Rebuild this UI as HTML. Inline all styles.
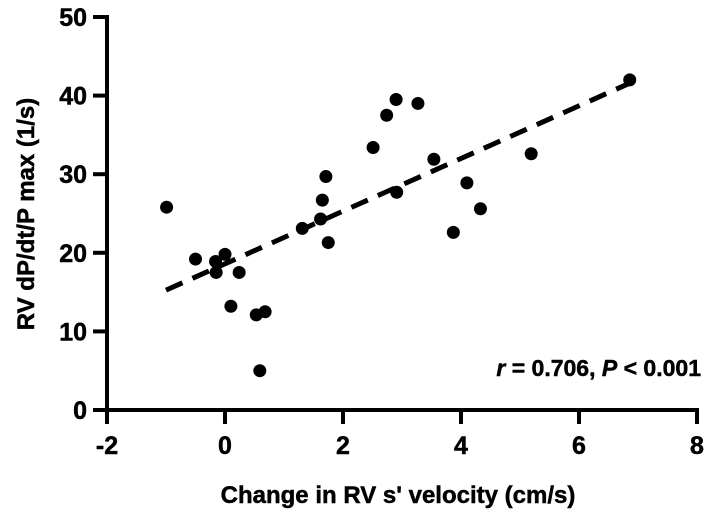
<!DOCTYPE html>
<html><head><meta charset="utf-8"><style>
body{margin:0;background:#fff}
svg text{font-family:"Liberation Sans",Arial,sans-serif;font-weight:bold;fill:#000}
</style></head><body>
<svg width="709" height="522">
<g id="axes"></g><g id="marks"></g>
<text x="701" y="376" text-anchor="end" font-size="23" stroke="#000" stroke-width="0.5"><tspan font-style="italic">r</tspan> = 0.706, <tspan font-style="italic">P</tspan> &lt; 0.001</text>
<text x="398" y="503" text-anchor="middle" font-size="24" stroke="#000" stroke-width="0.5">Change in RV s' velocity (cm/s)</text>
<text transform="translate(34,214) rotate(-90)" text-anchor="middle" font-size="24" stroke="#000" stroke-width="0.5">RV dP/dt/P max (1/s)</text>
</svg>
<script>
const xVals=[-0.99,-0.50,-0.15,-0.16,0.0,0.24,0.10,0.53,0.68,0.59,1.31,1.62,1.65,1.71,1.75,2.51,2.74,2.90,3.27,2.91,3.54,3.87,4.10,4.33,5.19,6.86];
const yVals=[25.8,19.2,17.5,18.9,19.8,17.5,13.2,12.1,12.5,5.0,23.1,24.3,26.7,29.7,21.3,33.4,37.5,39.5,39.0,27.7,31.9,22.6,28.9,25.6,32.6,42.0];
const xTicks=[-2,0,2,4,6,8];
const yTicks=[0,10,20,30,40,50];
const fitX=[-1,6.86];
const slope=3.35, intercept=18.6;
const X0=107,X1=697,Y0=410,Y1=17;
const sx=v=>X0+(v+2)/10*(X1-X0);
const sy=v=>Y0-v/50*(Y0-Y1);
const NS="http://www.w3.org/2000/svg";
const axes=document.getElementById('axes'),marks=document.getElementById('marks');
function mk(p,tag,at){const e=document.createElementNS(NS,tag);for(const k in at)e.setAttribute(k,at[k]);p.appendChild(e);return e;}
let a=mk(axes,'line',{x1:X0,y1:Y0,x2:X1+2,y2:Y0,stroke:'#000','stroke-width':4});


a=mk(axes,'line',{x1:X0,y1:Y1-2,x2:X0,y2:Y0+2,stroke:'#000','stroke-width':4});


xTicks.forEach(t=>{const x=sx(t);
 let l=mk(axes,'line',{x1:x,y1:Y0,x2:x,y2:Y0+14,stroke:'#000','stroke-width':4});
 
 
 let tx=mk(axes,'text',{x:x,y:Y0+44,'text-anchor':'middle','font-size':25,stroke:'#000','stroke-width':0.5});tx.textContent=t;
 
 
});
yTicks.forEach(t=>{const y=sy(t);
 let l=mk(axes,'line',{x1:X0-14,y1:y,x2:X0,y2:y,stroke:'#000','stroke-width':4});
 
 
 let tx=mk(axes,'text',{x:X0-20,y:y+9,'text-anchor':'end','font-size':25,stroke:'#000','stroke-width':0.5});tx.textContent=t;
 
 
});
let fl=mk(marks,'line',{x1:sx(fitX[0]),y1:sy(intercept+slope*fitX[0]),x2:sx(fitX[1]),y2:sy(intercept+slope*fitX[1]),stroke:'#000','stroke-width':5,'stroke-dasharray':'18,11'});


xVals.forEach((v,i)=>{
 let c=mk(marks,'circle',{cx:sx(v),cy:sy(yVals[i]),r:6.5,fill:'#000'});
 
 
});
</script>
</body></html>
